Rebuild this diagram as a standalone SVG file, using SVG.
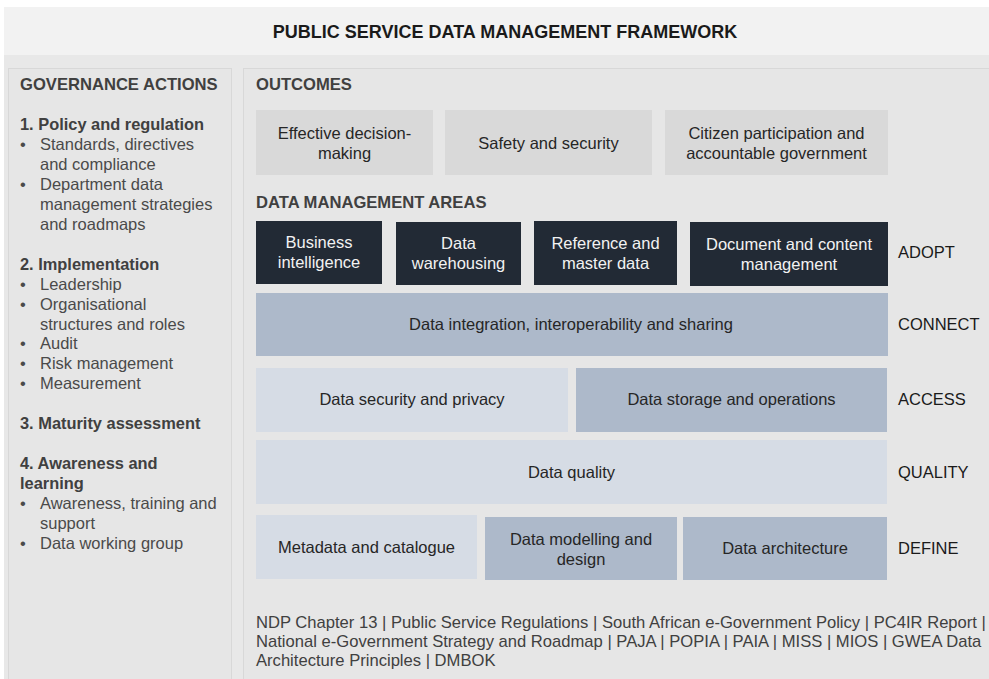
<svg xmlns="http://www.w3.org/2000/svg" width="989" height="679" viewBox="0 0 989 679">
<style>
  text { font-family: "Liberation Sans", Arial, sans-serif; }
  .title { font-size: 18px; font-weight: bold; fill: #1a1a1a; text-anchor: middle; }
  .head { font-size: 16.6px; font-weight: bold; fill: #404040; }
  .side { font-size: 16.5px; fill: #4a4a4a; }
  .sideb { font-size: 16.4px; font-weight: bold; fill: #404040; }
  .panel { fill: #e6e6e6; stroke: #d8d8d8; stroke-width: 1; }
  .outc { fill: #d9d9d9; }
  .dark { fill: #222a35; }
  .mid { fill: #adb9ca; }
  .light { fill: #d6dce5; }
  .bt { font-size: 16.5px; fill: #262626; text-anchor: middle; }
  .wt { font-size: 16.5px; fill: #f2f2f2; text-anchor: middle; }
  .lvl { font-size: 16.5px; fill: #1a1a1a; }
  .foot { font-size: 16.6px; fill: #404040; }
</style>
<rect x="0" y="0" width="989" height="679" fill="#ffffff"/>
<rect x="4" y="7" width="985" height="672" fill="#e8e8e8"/>
<rect x="4" y="7" width="985" height="48" fill="#f2f2f2"/>
<text class="title" x="505" y="38">PUBLIC SERVICE DATA MANAGEMENT FRAMEWORK</text>

<g id="governance">
  <rect class="panel" x="8.5" y="68.5" width="223" height="620"/>
  <text class="head" x="20" y="90">GOVERNANCE ACTIONS</text>
  <text class="sideb" x="20" y="130">1. Policy and regulation</text>
  <text class="side" x="20" y="150">•</text><text class="side" x="40" y="150">Standards, directives</text>
  <text class="side" x="40" y="170">and compliance</text>
  <text class="side" x="20" y="190">•</text><text class="side" x="40" y="190">Department data</text>
  <text class="side" x="40" y="210">management strategies</text>
  <text class="side" x="40" y="230">and roadmaps</text>
  <text class="sideb" x="20" y="270">2. Implementation</text>
  <text class="side" x="20" y="290">•</text><text class="side" x="40" y="290">Leadership</text>
  <text class="side" x="20" y="310">•</text><text class="side" x="40" y="310">Organisational</text>
  <text class="side" x="40" y="330">structures and roles</text>
  <text class="side" x="20" y="349">•</text><text class="side" x="40" y="349">Audit</text>
  <text class="side" x="20" y="369">•</text><text class="side" x="40" y="369">Risk management</text>
  <text class="side" x="20" y="389">•</text><text class="side" x="40" y="389">Measurement</text>
  <text class="sideb" x="20" y="429">3. Maturity assessment</text>
  <text class="sideb" x="20" y="469">4. Awareness and</text>
  <text class="sideb" x="20" y="489">learning</text>
  <text class="side" x="20" y="509">•</text><text class="side" x="40" y="509">Awareness, training and</text>
  <text class="side" x="40" y="529">support</text>
  <text class="side" x="20" y="549">•</text><text class="side" x="40" y="549">Data working group</text>
</g>

<g id="main">
  <rect class="panel" x="243.5" y="68.5" width="760" height="620"/>
  <text class="head" x="256" y="90">OUTCOMES</text>
  <text class="head" x="256" y="208">DATA MANAGEMENT AREAS</text>
</g>

<g id="outcome-decision">
  <rect class="outc" x="256" y="110" width="177" height="65"/>
  <text class="bt" x="344.5" y="139">Effective decision-</text>
  <text class="bt" x="344.5" y="159">making</text>
</g>
<g id="outcome-safety">
  <rect class="outc" x="445" y="110" width="207" height="65"/>
  <text class="bt" x="548.5" y="149">Safety and security</text>
</g>
<g id="outcome-citizen">
  <rect class="outc" x="665" y="110" width="223" height="65"/>
  <text class="bt" x="776.5" y="139">Citizen participation and</text>
  <text class="bt" x="776.5" y="159">accountable government</text>
</g>

<g id="bi">
  <rect class="dark" x="256" y="221" width="126" height="63"/>
  <text class="wt" x="319" y="248">Business</text>
  <text class="wt" x="319" y="268">intelligence</text>
</g>
<g id="dw">
  <rect class="dark" x="396" y="222" width="125" height="63"/>
  <text class="wt" x="458.5" y="249">Data</text>
  <text class="wt" x="458.5" y="269">warehousing</text>
</g>
<g id="rmd">
  <rect class="dark" x="534" y="221" width="143" height="64"/>
  <text class="wt" x="605.5" y="249">Reference and</text>
  <text class="wt" x="605.5" y="269">master data</text>
</g>
<g id="dcm">
  <rect class="dark" x="690" y="222" width="198" height="64"/>
  <text class="wt" x="789" y="250">Document and content</text>
  <text class="wt" x="789" y="270">management</text>
</g>
<text class="lvl" x="898" y="258">ADOPT</text>

<g id="integration">
  <rect class="mid" x="256" y="293" width="632" height="63"/>
  <text class="bt" x="571" y="330">Data integration, interoperability and sharing</text>
</g>
<text class="lvl" x="898" y="330">CONNECT</text>

<g id="security">
  <rect class="light" x="256" y="368" width="312" height="64"/>
  <text class="bt" x="412" y="405">Data security and privacy</text>
</g>
<g id="storage">
  <rect class="mid" x="576" y="368" width="311" height="64"/>
  <text class="bt" x="731.5" y="405">Data storage and operations</text>
</g>
<text class="lvl" x="898" y="405">ACCESS</text>

<g id="quality">
  <rect class="light" x="256" y="440" width="631" height="64"/>
  <text class="bt" x="571.5" y="478">Data quality</text>
</g>
<text class="lvl" x="898" y="478">QUALITY</text>

<g id="metadata">
  <rect class="light" x="256" y="515" width="221" height="64"/>
  <text class="bt" x="366.5" y="553">Metadata and catalogue</text>
</g>
<g id="modelling">
  <rect class="mid" x="485" y="517" width="192" height="63"/>
  <text class="bt" x="581" y="545">Data modelling  and</text>
  <text class="bt" x="581" y="565">design</text>
</g>
<g id="architecture">
  <rect class="mid" x="683" y="517" width="204" height="63"/>
  <text class="bt" x="785" y="554">Data architecture</text>
</g>
<text class="lvl" x="898" y="554">DEFINE</text>

<g id="connectors"></g>

<g id="footer">
  <text class="foot" x="256" y="628">NDP Chapter 13 | Public Service Regulations | South African e-Government Policy | PC4IR Report |</text>
  <text class="foot" x="256" y="647">National e-Government Strategy and Roadmap | PAJA | POPIA | PAIA | MISS | MIOS | GWEA Data</text>
  <text class="foot" x="256" y="666">Architecture Principles | DMBOK</text>
</g>
</svg>
